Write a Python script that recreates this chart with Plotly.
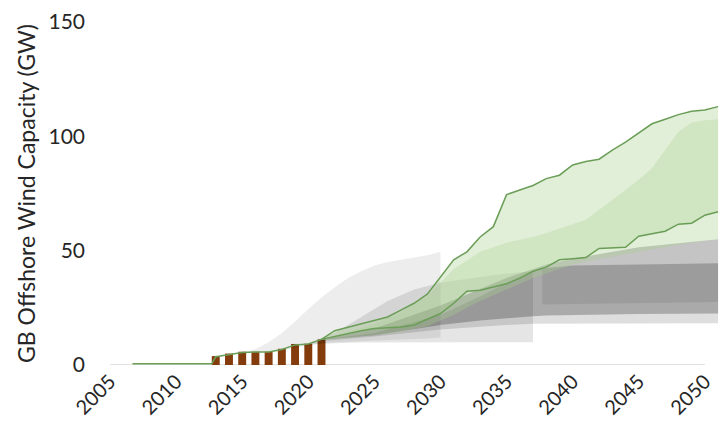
import plotly.graph_objects as go

# Historical installed capacity (GW)
bar_years = [2013, 2014, 2015, 2016, 2017, 2018, 2019, 2020, 2021]
bar_values = [3.9, 5.0, 5.8, 5.8, 5.8, 7.1, 9.2, 9.3, 11.2]

hist_years = [2006.7, 2012.7, 2013, 2014, 2015, 2016, 2017, 2018, 2019, 2020, 2021]
hist_values = [0.5, 0.5, 3.6, 4.6, 5.5, 5.7, 5.7, 6.8, 8.8, 9.2, 11.2]

# Scenario pathways (GW)
path_years = list(range(2021, 2052))
path_high = [11.2, 15, 16.5, 18, 19.5, 21, 24, 27, 31, 38.5, 46, 49.5, 56, 60.5, 74.5,
             76.5, 78.5, 81.5, 83, 87.5, 89, 90, 94, 97.5, 101.5, 105.5, 107.5, 109.5,
             111, 111.5, 113]
path_low = [11.2, 12.5, 14, 15, 16, 16.3, 16.6, 17.5, 20, 22.5, 27, 32.3, 32.7, 34, 35.5,
            38, 41, 42.8, 46, 46.5, 47, 51, 51.2, 51.5, 56.3, 57.5, 58.5, 61.6, 62, 65.5, 67]

# Scenario envelope
env_years = [2021, 2023, 2025, 2027, 2029, 2031, 2033, 2035, 2037, 2040, 2043, 2045, 2047, 2049, 2051]
env_floor = [10.8, 11.8, 13, 14.5, 17, 22, 28, 33, 38, 44, 47.5, 49.5, 51.5, 53.5, 55]

mid_years = [2021, 2023, 2025, 2027, 2029, 2030, 2031, 2033, 2035, 2037, 2039, 2041, 2043,
             2045, 2046, 2047, 2048, 2049, 2050, 2051]
mid_top = [11.2, 14.5, 18, 23, 30, 36, 42, 49.5, 53.5, 56, 59.5, 63.5, 72, 81, 86, 94, 102,
           106, 107, 107.5]

# Earlier projection ranges (GW)
early_years = [2014, 2015, 2016, 2017, 2018, 2019, 2020, 2021, 2022, 2023, 2024, 2025, 2026,
               2027, 2028, 2029, 2030]
early_upper = [4.5, 5.5, 7, 10, 14, 19, 24.5, 29.5, 34, 38, 41, 43.5, 45, 46, 47, 48, 49.5]
early_lower = [4.5, 5, 5.5, 6, 6.5, 7.5, 8.5, 9.5, 10, 10.3, 10.6, 10.8, 11, 11.2, 11.4, 11.6, 12]

mid_range_years = [2020, 2022, 2024, 2026, 2028, 2030, 2033, 2035, 2037]
mid_range_upper = [9.5, 14, 21, 28, 33, 36, 38.5, 40, 41]
mid_range_lower = [9, 9.5, 9.8, 10, 10, 10, 10, 10, 10]

long_years = [2021, 2025, 2030, 2033, 2035, 2037, 2038, 2040, 2045, 2051]
long_a_upper = [11, 14, 22, 30, 36, 41, 42.5, 43.5, 44, 44.5]
long_a_lower = [10.5, 12.5, 15.5, 16.8, 17.5, 18, 18.3, 18.3, 18.3, 18.3]
long_b_upper = [11.2, 16, 26, 33, 38, 42, 44, 46.5, 51.5, 55]
long_b_lower = [11, 13, 17.5, 19.5, 20.5, 21.3, 21.6, 22, 22.3, 22.5]

late_years = [2037.7, 2040, 2045, 2051]
late_upper = [42, 43.5, 44, 44.5]
late_lower = [26.5, 26.8, 27, 27.5]

GREEN = "#6A9E57"
BROWN = "#843C0C"
FONT = "Lato, Carlito, sans-serif"


def band(xs, upper, lower, color):
    return go.Scatter(
        x=list(xs) + list(xs)[::-1],
        y=list(upper) + list(lower)[::-1],
        fill="toself", fillcolor=color, mode="lines",
        line=dict(width=0), hoverinfo="skip", showlegend=False,
    )


def interp(xs, ys, x):
    for i in range(len(xs) - 1):
        if xs[i] <= x <= xs[i + 1]:
            t = (x - xs[i]) / (xs[i + 1] - xs[i])
            return ys[i] + t * (ys[i + 1] - ys[i])
    return ys[-1]


fig = go.Figure()

# grey projection ranges
fig.add_trace(band(early_years, early_upper, early_lower, "rgba(0,0,0,0.07)"))
fig.add_trace(band(mid_range_years, mid_range_upper, mid_range_lower, "rgba(0,0,0,0.10)"))
fig.add_trace(band(long_years, long_a_upper, long_a_lower, "rgba(0,0,0,0.13)"))
fig.add_trace(band(long_years, long_b_upper, long_b_lower, "rgba(0,0,0,0.23)"))
fig.add_trace(band(late_years, late_upper, late_lower, "rgba(0,0,0,0.08)"))

# green scenario areas
floor_on_path = [interp(env_years, env_floor, y) for y in path_years]
fig.add_trace(band(path_years, path_high, floor_on_path, "rgba(169,209,142,0.34)"))
mid_on_path = [interp(mid_years, mid_top, y) for y in path_years]
fig.add_trace(band(path_years, mid_on_path, path_low, "rgba(160,205,135,0.28)"))

# scenario lines
for ys in (path_high, path_low):
    fig.add_trace(go.Scatter(x=path_years, y=ys, mode="lines",
                             line=dict(color=GREEN, width=1.5),
                             hoverinfo="skip", showlegend=False))
fig.add_trace(go.Scatter(x=hist_years, y=hist_values, mode="lines",
                         line=dict(color=GREEN, width=1.5),
                         hoverinfo="skip", showlegend=False))

# historical bars
fig.add_trace(go.Bar(x=bar_years, y=bar_values, width=0.6,
                     marker=dict(color=BROWN, line=dict(width=0)),
                     showlegend=False))

fig.add_shape(type="line", xref="x", yref="y", x0=2005, x1=2050, y0=0, y1=0,
              line=dict(color="#D9D9D9", width=1.5), layer="below")

fig.update_layout(
    width=719, height=437,
    margin=dict(l=110, r=0, t=22, b=72),
    paper_bgcolor="white", plot_bgcolor="white",
    font=dict(family=FONT, size=20, color="#262626"),
    showlegend=False,
    xaxis=dict(
        range=[2005, 2051.07], tickmode="array",
        tickvals=list(range(2005, 2051, 5)),
        ticktext=[str(y) for y in range(2005, 2051, 5)],
        tickangle=-45, showgrid=False, zeroline=False, showline=False,
        ticks="", tickfont=dict(size=20),
    ),
    yaxis=dict(
        range=[0, 150], tickvals=[0, 50, 100, 150],
        showgrid=False, zeroline=False, showline=False, ticks="",
        ticklabelstandoff=24, tickfont=dict(size=21),
        title=dict(text="GB Offshore Wind Capacity (GW)", font=dict(size=23), standoff=6),
    ),
)

fig.write_html("out.html")
